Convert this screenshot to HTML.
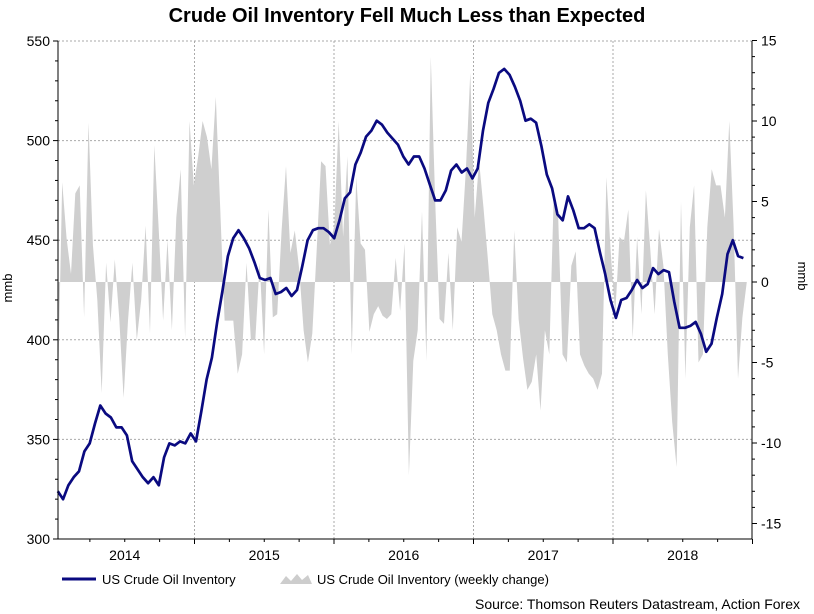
<!DOCTYPE html>
<html><head><meta charset="utf-8">
<style>
body{margin:0;background:#fff;}
svg{display:block;font-family:"Liberation Sans",Arial,sans-serif;}
</style></head>
<body>
<svg id="chart" width="814" height="614" viewBox="0 0 814 614" xmlns="http://www.w3.org/2000/svg">
<text x="407" y="22" text-anchor="middle" font-size="20" font-weight="bold" fill="#000">Crude Oil Inventory Fell Much Less than Expected</text>
<g id="grid"></g>
<g id="bars"></g>
<g id="lineg"></g>
<g id="axes"></g>
<text transform="translate(12,288) rotate(-90)" text-anchor="middle" font-size="13">mmb</text>
<text transform="translate(798,276) rotate(90)" text-anchor="middle" font-size="13">mmb</text>
<g>
<line x1="62" y1="579" x2="96" y2="579" stroke="#0a0a80" stroke-width="3"/>
<text x="102" y="584" font-size="13">US Crude Oil Inventory</text>
<polygon points="280,584 286,576 291,581 297,574 302,580 308,575 312,584" fill="#cdcdcd"/>
<text x="317" y="584" font-size="13">US Crude Oil Inventory (weekly change)</text>
</g>
<text x="800" y="609" text-anchor="end" font-size="14">Source: Thomson Reuters Datastream, Action Forex</text>
</svg>
<script>
const leftTicks=[550,500,450,400,350,300];
const rightTicks=[15,10,5,0,-5,-10,-15];
const yearLabels=["2014","2015","2016","2017","2018"];
const invStart=2014.02, invStep=0.0381;
const inventory=[324,320,327,331,334,344,348,358,367,363,361,356,356,352,339,335,331,328,331,327,341,348,347,349,348,353,349,364,380,391,409,425,442,451,455,451,446,439,431,430,431,423,424,426,422,425,437,450,455,456,456,454,451,460,471,474,488,494,502,505,510,508,504,501,498,492,488,492,492,486,478,470,470,475,485,488,484,486,481,486,505,519,526,534,536,533,527,520,510,511,509,497,483,476,463,460,472,465,456,456,458,456,444,433,420,411,420,421,425,430,426,428,436,433,435,434,419,406,406,407,409,403,394,398,411,423,443,450,442,441];
const chgStart=2014.02, chgStep=0.03146;
const weeklyChange=[-7,6.2,2.7,0.5,5.5,6,-2.2,9.9,2.3,-1.1,-6.9,1.2,-2.5,1.4,-2.2,-7.2,-2.4,1.2,-3.6,-1.1,3.5,-3.2,8.5,3.3,-2.4,2.6,-3,4,7,-3.5,10,6,7.8,10,9,7,11.5,4.6,-2.4,-2.4,-2.4,-5.7,-4.5,1.2,-3.6,-3.6,1.2,-4.5,4.5,-2.2,
-2,3.2,7.2,1.8,3.2,0.8,-3,-5,-3.2,2,7.5,7.2,2.3,3.5,10,2.8,7.8,-4.5,6.5,2.4,2,-3.1,-2,-1.5,-2.1,-2.3,-2,1.5,-1.8,2.4,-12,-4.9,-3,4.4,-4.9,14,5,-2.3,-2.6,1.8,-3,3.4,2.5,7,13,4,7.5,4.6,1.4,-2,-3,-4.5,-5.5,
-5.5,3.2,-2.3,-4.7,-6.7,-6.2,-4.5,-8,-3,-4.5,5.3,4.2,-4.5,-5,1,1.9,-4.5,-5.2,-5.7,-6,-6.7,-5.7,6.5,1.8,-2,2.8,2.5,4.5,-3.5,2.8,-2,5.7,2,-2,3.3,1,-4.5,-8.7,-11.5,5,-6,3.4,6,-5,-4.5,3.4,7,6,6,4,10,3.5,-6,-2.2,0];

const NS="http://www.w3.org/2000/svg";
const X0=58,X1=752,YT=41,YB=539;
function xS(t){return 55+(t-2014)*139.5;}
function yL(v){return 539-(v-300)*1.992;}
function yR(v){return 282-v*16.1;}
function mk(tag,attrs,parent){const e=document.createElementNS(NS,tag);for(const k in attrs)e.setAttribute(k,attrs[k]);parent.appendChild(e);return e;}

const grid=document.getElementById('grid');
leftTicks.forEach(v=>{
  if(v===300) return;
  const l=mk('line',{x1:X0,x2:X1,y1:yL(v),y2:yL(v),stroke:'#aaa','stroke-dasharray':'2,2'},grid);
  
  
});
for(let y=2015;y<=2018;y++){
  const l=mk('line',{x1:xS(y),x2:xS(y),y1:YT,y2:YB,stroke:'#aaa','stroke-dasharray':'2,2'},grid);
  
  
}

const bars=document.getElementById('bars');
let d='M'+xS(chgStart).toFixed(1)+','+yR(0);
weeklyChange.forEach((v,i)=>{d+=' L'+xS(chgStart+i*chgStep).toFixed(1)+','+yR(v).toFixed(1);});
d+=' L'+xS(chgStart+(weeklyChange.length-1)*chgStep).toFixed(1)+','+yR(0)+' Z';
const area=mk('path',{d:d,fill:'#cfcfcf'},bars);



const lg=document.getElementById('lineg');
const pts=inventory.map((v,i)=>xS(invStart+i*invStep).toFixed(1)+','+yL(v).toFixed(1)).join(' ');
const pl=mk('polyline',{points:pts,fill:'none',stroke:'#0a0a80','stroke-width':2.7,'stroke-linejoin':'round'},lg);



const ax=document.getElementById('axes');
const fr=mk('path',{d:`M${X0},${YT} L${X0},${YB} L${X1},${YB} L${X1},${YT}`,fill:'none',stroke:'#000','stroke-width':1},ax);


for(let v=300;v<=550;v+=10){mk('line',{x1:X0-(v%50===0?5:3),x2:X0,y1:yL(v),y2:yL(v),stroke:'#000'},ax);}
for(let v=-15;v<=15;v++){mk('line',{x1:X1,x2:X1+(v%5===0?5:3),y1:yR(v),y2:yR(v),stroke:'#000'},ax);}
for(let q=0;q<=20;q++){const x=xS(2014+q/4);if(x<X0-1)continue;mk('line',{x1:x,x2:x,y1:YB,y2:YB+(q%4===0?5:3),stroke:'#000'},ax);}
leftTicks.forEach(v=>{
  const t=mk('text',{x:X0-8,y:yL(v)+5,'text-anchor':'end','font-size':14},ax);
  t.textContent=v;
  
  
});
rightTicks.forEach(v=>{
  const t=mk('text',{x:X1+9,y:yR(v)+5,'text-anchor':'start','font-size':14},ax);
  t.textContent=v;
  
  
});
yearLabels.forEach((s,i)=>{
  const t=mk('text',{x:xS(2014+i+0.5),y:560,'text-anchor':'middle','font-size':14},ax);
  t.textContent=s;
  
  
});
</script>
</body></html>
